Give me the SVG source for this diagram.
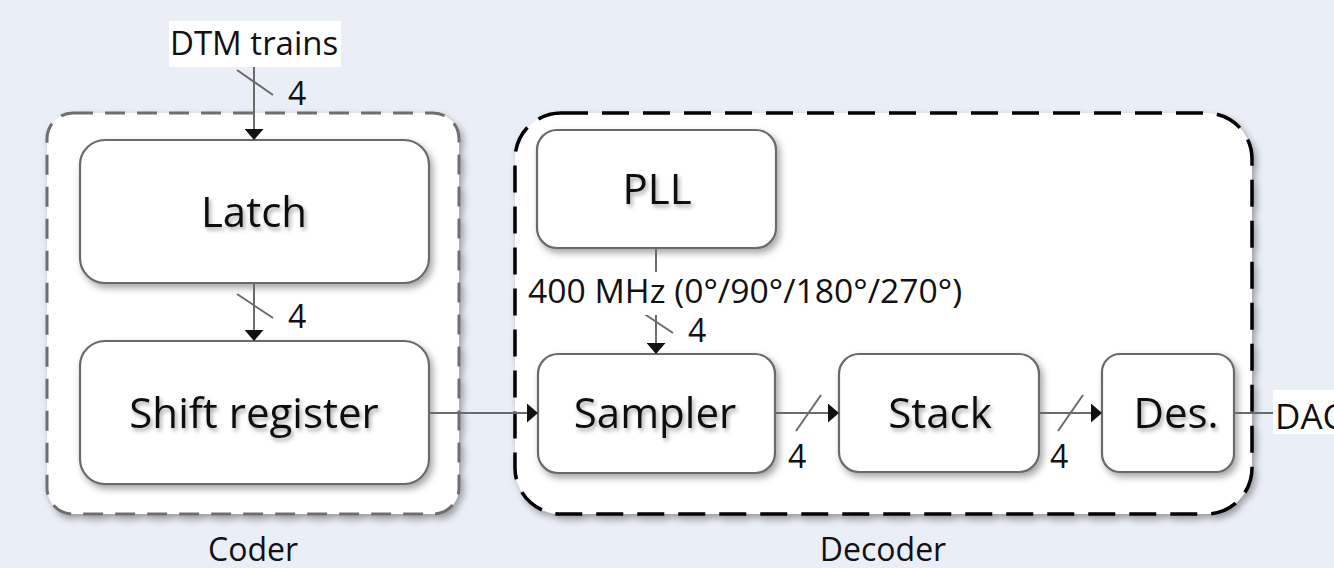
<svg xmlns="http://www.w3.org/2000/svg" width="1334" height="568" viewBox="0 0 1334 568">
<defs>
<filter id="sh" x="-20%" y="-20%" width="140%" height="150%">
<feDropShadow dx="3" dy="4" stdDeviation="3.5" flood-color="#000" flood-opacity="0.35"/>
</filter>
<filter id="tsh" x="-20%" y="-30%" width="140%" height="170%">
<feDropShadow dx="2" dy="3" stdDeviation="2" flood-color="#000" flood-opacity="0.35"/>
</filter>
<marker id="ah" markerWidth="11" markerHeight="19" refX="11" refY="9.5" orient="auto" markerUnits="userSpaceOnUse">
<path d="M0,0 L11,9.5 L0,19 Z" fill="#111"/>
</marker>
<style>
.box{fill:#fff;stroke:#6b6b6b;stroke-width:2.2;filter:url(#sh)}
.big{font-family:"Open Sans","Liberation Sans",sans-serif;font-size:42px;fill:#111;text-anchor:middle;filter:url(#tsh)}
.lbl{font-family:"Open Sans","Liberation Sans",sans-serif;font-size:33px;fill:#111}
.num{font-family:"Open Sans","Liberation Sans",sans-serif;font-size:32px;fill:#111}
.cap{font-family:"Open Sans","Liberation Sans",sans-serif;font-size:32px;fill:#111;text-anchor:middle}
.ln{stroke:#6b6b6b;stroke-width:2;fill:none}
.sl{stroke:#6b6b6b;stroke-width:2;fill:none}
</style>
</defs>
<rect x="0" y="0" width="1334" height="568" fill="#eaeef7"/>

<g id="coder">
<rect x="47" y="113" width="412" height="401" rx="26" fill="#fff" stroke="#6e6e6e" stroke-width="3" stroke-dasharray="20 12" filter="url(#sh)"/>
<text class="cap" x="253" y="561">Coder</text>
</g>
<g id="decoder">
<rect x="515" y="113" width="737" height="401" rx="46" fill="#fff" stroke="#000" stroke-width="3.5" stroke-dasharray="27 14" filter="url(#sh)"/>
<text class="cap" x="883" y="561">Decoder</text>
</g>

<g id="latch">
<rect class="box" x="80" y="140" width="349" height="143" rx="25"/>
<text class="big" x="254" y="227">Latch</text>
</g>
<g id="shift">
<rect class="box" x="80" y="341" width="349" height="143" rx="25"/>
<text class="big" x="254" y="428">Shift register</text>
</g>
<g id="pll">
<rect class="box" x="537" y="130" width="239" height="118" rx="20"/>
<text class="big" x="657" y="204">PLL</text>
</g>
<g id="sampler">
<rect class="box" x="538" y="354" width="237" height="119" rx="20"/>
<text class="big" x="655" y="428">Sampler</text>
</g>
<g id="stack">
<rect class="box" x="839" y="354" width="200" height="118" rx="20"/>
<text class="big" x="940" y="428">Stack</text>
</g>
<g id="des">
<rect class="box" x="1102" y="354" width="132" height="118" rx="18"/>
<text class="big" x="1176" y="428">Des.</text>
</g>

<g id="connectors">
<!-- DTM trains -> Latch -->
<line class="ln" x1="254" y1="67" x2="254" y2="140" marker-end="url(#ah)"/>
<line class="sl" x1="237" y1="70" x2="273" y2="95"/>
<text class="num" x="288" y="105">4</text>
<rect x="169" y="21" width="172" height="46" fill="#fff"/>
<text class="lbl" x="170" y="55">DTM trains</text>
<!-- Latch -> Shift register -->
<line class="ln" x1="254" y1="283" x2="254" y2="341" marker-end="url(#ah)"/>
<line class="sl" x1="237" y1="294" x2="273" y2="318"/>
<text class="num" x="288" y="328">4</text>
<!-- Shift register -> Sampler -->
<line class="ln" x1="429" y1="413" x2="538" y2="413" marker-end="url(#ah)"/>
<!-- PLL -> Sampler -->
<line class="ln" x1="656" y1="248" x2="656" y2="354" marker-end="url(#ah)"/>
<line class="sl" x1="637" y1="309" x2="673" y2="333"/>
<rect x="525" y="272" width="446" height="43" fill="#fff"/>
<text class="lbl" x="528" y="303" style="font-size:33.7px">400 MHz (0°/90°/180°/270°)</text>
<text class="num" x="688" y="342">4</text>
<!-- Sampler -> Stack -->
<line class="ln" x1="775" y1="413" x2="839" y2="413" marker-end="url(#ah)"/>
<line class="sl" x1="796" y1="431" x2="821" y2="395"/>
<text class="num" x="788" y="468">4</text>
<!-- Stack -> Des. -->
<line class="ln" x1="1039" y1="413" x2="1102" y2="413" marker-end="url(#ah)"/>
<line class="sl" x1="1058" y1="431" x2="1083" y2="395"/>
<text class="num" x="1050" y="468">4</text>
<!-- Des. -> DAC -->
<line class="ln" x1="1234" y1="413" x2="1273" y2="413"/>
<rect x="1273" y="390" width="70" height="44" fill="#fff"/>
<text class="lbl" x="1275" y="429" style="font-size:35px">DAC</text>
</g>
</svg>
